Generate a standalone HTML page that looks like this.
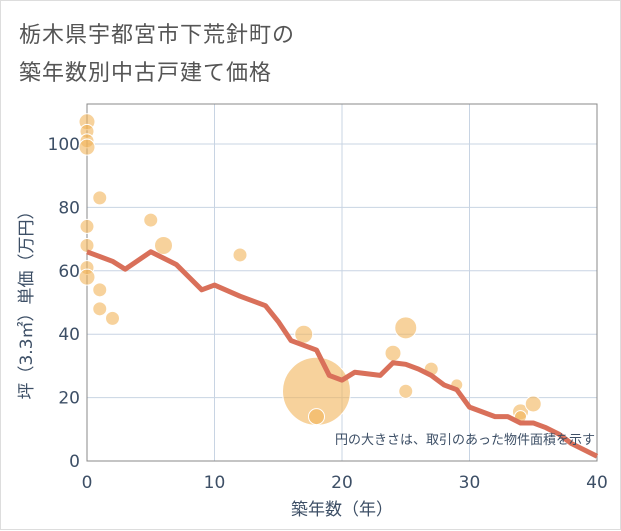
<!DOCTYPE html>
<html><head><meta charset="utf-8"><style>
body{margin:0;background:#fff;font-family:"Liberation Sans","Noto Sans CJK JP",sans-serif}
#wrap{position:relative;width:621px;height:530px;background:#fff;border:1px solid #ddd;box-sizing:border-box}
.t{position:absolute;left:18px;color:#555;font-size:22px;letter-spacing:1px}
</style></head><body>
<div id="wrap">
<div class="t" style="top:16px">栃木県宇都宮市下荒針町の</div>
<div class="t" style="top:54px">築年数別中古戸建て価格</div>
<svg id="c" width="621" height="530" style="position:absolute;left:0;top:0"></svg>
</div>
<script>
const lineX=[0,2,3,5,6,7,8,9,10,12,14,15,16,18,19,20,21,23,24,25,26,27,28,29,30,32,33,34,35,36,37,38,40];
const lineY=[66,63,60.5,66,64,62,58,54,55.5,52,49,44,38,35,27,25.5,28,27,31,30.5,29,27,24,22.5,17,14,14,12,12,10.5,8.5,5.5,1.5];
const bubX=[0,0,0,0,1,0,0,0,0,1,1,2,5,6,12,17,18,18,24,25,25,27,29,34,34,35];
const bubY=[107,104,101,99,83,74,68,61,58,54,48,45,76,68,65,40,22,14,34,42,22,29,24,15.5,14,18];
const bubR=[8,7,7,8,7,7,7,7,8,7,7,7,7,9,7,9,34,8,8,11,7,7,6,8,6,8];
const xTicks=[0,10,20,30,40];
const yTicks=[0,20,40,60,80,100];
const L=86,R=596,T=103,B=460;
const sx=v=>L+(v/40)*(R-L);
const sy=v=>B-v*3.17;
const s=document.getElementById('c');const NS='http://www.w3.org/2000/svg';
const TF='"DejaVu Sans","Noto Sans CJK JP",sans-serif';
function el(t,a,p){const e=document.createElementNS(NS,t);for(const k in a)e.setAttribute(k,a[k]);(p||s).appendChild(e);return e;}
xTicks.forEach(v=>{const g=el('line',{x1:sx(v),x2:sx(v),y1:T,y2:B,stroke:'#c8d4e3','stroke-width':1});

const t=el('text',{x:sx(v),y:487,'text-anchor':'middle','font-size':17,fill:'#3d4f66','font-family':TF});t.textContent=v;
});
yTicks.forEach(v=>{const g=el('line',{x1:L,x2:R,y1:sy(v),y2:sy(v),stroke:'#c8d4e3','stroke-width':1});

const t=el('text',{x:79,y:sy(v)+6,'text-anchor':'end','font-size':17,fill:'#3d4f66','font-family':TF});t.textContent=v;
});
const fr=el('rect',{x:L,y:T,width:R-L,height:B-T,fill:'none',stroke:'#888','stroke-width':1});

bubX.forEach((v,i)=>{const c=el('circle',{cx:sx(v),cy:sy(bubY[i]),r:bubR[i],fill:'rgba(242,180,90,0.6)',stroke:'#fff','stroke-width':1});
});
const p=el('polyline',{points:lineX.map((v,i)=>sx(v)+','+sy(lineY[i])).join(' '),fill:'none',stroke:'#d9705a','stroke-width':5,'stroke-linejoin':'round'});

const n=el('text',{x:594,y:443,'text-anchor':'end','font-size':13,fill:'#3d4f66'});n.textContent='円の大きさは、取引のあった物件面積を示す';

const xt=el('text',{x:341,y:514,'text-anchor':'middle','font-size':17,fill:'#3d4f66','font-family':TF});xt.textContent='築年数（年）';

const yt=el('text',{x:0,y:0,'text-anchor':'middle','font-size':17,fill:'#3d4f66','font-family':TF,transform:'translate(31,300) rotate(-90)'});yt.textContent='坪（3.3㎡）単価（万円）';

</script>
</body></html>
